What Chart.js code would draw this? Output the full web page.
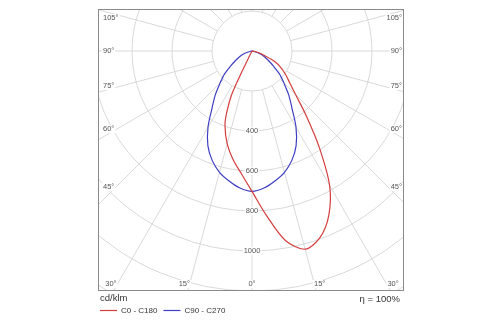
<!DOCTYPE html>
<html><head><meta charset="utf-8">
<script src="https://cdn.jsdelivr.net/npm/chart.js@4.4.0/dist/chart.umd.min.js"></script>
<style>html,body{margin:0;padding:0;background:#fff;}#wrap{width:500px;height:325px;position:relative;}</style>
</head><body><div id="wrap"><canvas id="c" width="500" height="325"></canvas></div>
<script>
// ---- data (cd/klm vs. angle from nadir, degrees) ----
const anglesC0 = [0,5,10,15,20,25,30,35,40,45,50,55,60,65,70,75,80,85,90];
const valuesC0 = [702,825,962,1026,993,908,776,585,421,308,245,205,168,127,66,35,15,5,0];
const anglesC180 = [0,5,10,15,20,22.5,25,26,27,30];
const valuesC180 = [702,615,550,480,395,328,240,120,30,0];
const anglesC90 = [0,5,10,15,20,25,30,35,40,45,50,55,60,65,70,75,80,85];
const valuesC90 = [702,688,660,628,582,522,440,348,285,225,180,130,95,70,45,20,5,0];
const ringValues = [200,400,600,800,1000,1200,1400,1600,1800,2000,2200,2400];
const ringLabelValues = [400,600,800,1000];
const angleTicks = [0,15,30,45,60,75,90,105];
const seriesNames = ['C0 - C180','C90 - C270'];
const unitLabel = 'cd/klm';
const efficiencyLabel = '\u03B7 = 100%';

function polar(angle, value, side){
  const a = angle*Math.PI/180;
  return {x: side*value*Math.sin(a), y: -value*Math.cos(a)};
}
function buildCurve(angL, valL, angR, valR){
  const pts = [];
  for(let i=angL.length-1;i>=0;i--) pts.push(polar(angL[i], valL[i], -1));
  for(let i=1;i<angR.length;i++) pts.push(polar(angR[i], valR[i], 1));
  return pts;
}
const redPts = buildCurve(anglesC180, valuesC180, anglesC0, valuesC0);
const bluePts = buildCurve(anglesC90, valuesC90, anglesC90, valuesC90);

const RED = '#d43d3d', BLUE = '#3f3fc4';
const FONT = '"Liberation Sans", Arial, sans-serif';

const polarGrid = {
  id:'polarGrid',
  beforeDatasetsDraw(chart){
    const {ctx, chartArea:ca, scales:{x, y}} = chart;
    const cx = x.getPixelForValue(0), cy = y.getPixelForValue(0);
    const k = x.getPixelForValue(1000) - cx; // px per 1000
    ctx.save();
    ctx.beginPath(); ctx.rect(ca.left, ca.top, ca.right-ca.left, ca.bottom-ca.top); ctx.clip();
    ctx.strokeStyle = '#d9d9d9'; ctx.lineWidth = 1;
    ringValues.forEach(v=>{
      ctx.beginPath(); ctx.arc(cx, cy, v*k/1000, 0, Math.PI*2); ctx.stroke();
    });
    const r0 = ringValues[0]*k/1000;
    for(let a=0;a<360;a+=15){
      const t = a*Math.PI/180;
      const dx = Math.sin(t), dy = Math.cos(t);
      ctx.beginPath();
      ctx.moveTo(cx+dx*r0, cy+dy*r0);
      ctx.lineTo(cx+dx*1000, cy+dy*1000);
      ctx.stroke();
    }
    // ring value labels along nadir
    ctx.font = '7.5px '+FONT;
    ctx.textAlign='center'; ctx.textBaseline='middle';
    ringLabelValues.forEach(v=>{
      const py = y.getPixelForValue(-v);
      const s = String(v), w = ctx.measureText(s).width;
      ctx.fillStyle='#fff'; ctx.fillRect(cx-w/2-1, py-4, w+2, 8);
      ctx.fillStyle='#555'; ctx.fillText(s, cx, py);
    });
    // angle labels
    const sideInset = 142, botY = ca.bottom-7, topY = ca.top+9;
    angleTicks.forEach(a=>{
      const sides = a===0 ? [1] : [-1,1];
      sides.forEach(side=>{
        let phi = a;
        if(a>0 && a<90) phi = a+1.2;
        if(a>90) phi = a+1;
        const t = phi*Math.PI/180;
        const sx = Math.sin(t), sy = Math.cos(t);
        const tSide = sx>1e-6 ? sideInset/sx : Infinity;
        const tBot = sy>1e-6 ? (botY-cy)/sy : Infinity;
        const s = a+'\u00B0';
        const w = ctx.measureText(s).width;
        let px, py, align;
        if(tBot <= tSide){
          px = cx + side*sx*tBot; py = botY; align='center';
        } else {
          py = Math.max(topY, Math.min(botY, cy + sy*tSide));
          if(side<0){ px = ca.left+5; align='left'; } else { px = ca.right-2; align='right'; }
        }
        let left = align==='center' ? px-w/2 : (align==='left' ? px : px-w);
        ctx.fillStyle='#fff'; ctx.fillRect(left-1, py-4, w+2, 8);
        ctx.fillStyle='#555'; ctx.textAlign=align; ctx.fillText(s, px, py);
      });
    });
    ctx.restore();
  },
  afterDraw(chart){
    const {ctx, chartArea:ca} = chart;
    ctx.save();
    ctx.strokeStyle='#8a8a8a'; ctx.lineWidth=1;
    ctx.strokeRect(Math.round(ca.left)+0.5, Math.round(ca.top)+0.5, Math.round(ca.right-ca.left)-1, Math.round(ca.bottom-ca.top)-1);
    ctx.fillStyle='#333'; ctx.textBaseline='middle';
    ctx.font='9.5px '+FONT; ctx.textAlign='left';
    ctx.fillText(unitLabel, ca.left+2, ca.bottom+7);
    ctx.textAlign='right';
    ctx.fillText(efficiencyLabel, ca.right-4, ca.bottom+8);
    ctx.font='8px '+FONT; ctx.textAlign='left';
    let lx = ca.left+2;
    const ly = ca.bottom+19.5;
    chart.data.datasets.forEach(ds=>{
      ctx.strokeStyle = ds.borderColor; ctx.lineWidth=1.2;
      ctx.beginPath(); ctx.moveTo(lx, ly); ctx.lineTo(lx+17, ly); ctx.stroke();
      ctx.fillStyle='#333';
      ctx.fillText(ds.label, lx+21, ly);
      lx += 21 + ctx.measureText(ds.label).width + 6;
    });
    ctx.restore();
  }
};

new Chart(document.getElementById('c'), {
  type:'scatter',
  data:{datasets:[
    {label:seriesNames[0], data:redPts, showLine:true, borderColor:RED, borderWidth:1.2, pointRadius:0, tension:0.3, fill:false},
    {label:seriesNames[1], data:bluePts, showLine:true, borderColor:BLUE, borderWidth:1.2, pointRadius:0, tension:0.3, fill:false}
  ]},
  options:{
    responsive:false, animation:false, devicePixelRatio:1,
    layout:{padding:{left:98, top:9, right:96, bottom:34}},
    plugins:{legend:{display:false}, tooltip:{enabled:false}},
    scales:{
      x:{type:'linear', min:-770, max:760, display:false},
      y:{type:'linear', min:-1200, max:210, display:false}
    }
  },
  plugins:[polarGrid]
});
</script></body></html>
